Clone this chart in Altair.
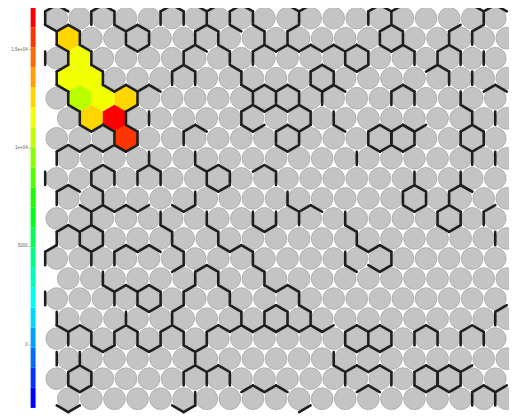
import altair as alt
import pandas as pd
import colorsys

# ---------------- data ----------------
N_ROWS = 20
N_COLS = 20

# coloured units (row from top, column from left) and their values
cell_rows = [1, 2, 3, 3, 4, 4, 4, 5, 5, 6]
cell_cols = [0, 1, 0, 1, 1, 2, 3, 1, 2, 3]
cell_values = [12600, 11500, 11500, 11500, 10500, 11500, 12600, 12600, 16600, 15600]

A = "NW NE E SE SW W"
# cluster boundary edges per row: "col:EDGES" separated by "|"
boundary_rows = {
    0: "0:NW NE W SW|2:NW NE W E|3:SW SE|4:SW|5:NW NE W E|6:NE|7:NW W|8:NW NE W E SW|10:NE|11:NW W|14:NW NE W|15:NW W|18:NE|19:NW NE W",
    1: "0:NW NE W E SW|3:W E SW SE|6:NW NE W|7:W SW|8:NE E|9:SW|10:NW W|14:" + A + "|17:NW W|18:NW W",
    2: "0:W|1:NE W E|6:NW NE W|8:W SW|9:NW W|10:NW NE|11:NW NE|12:NW NE|13:" + A + "|15:NW NE E|17:NW NE W E|19:W",
    3: "0:NW W SW|1:NE E|5:NW NE W E|8:W SW|11:" + A + "|16:NW NE E|18:W",
    4: "1:W SW|2:NE|3:NW NE E SE|4:NW NE|9:" + A + "|10:NW NE E SE SW|12:NW NE W|15:NW NE W E|18:W SW|19:NW NE",
    5: "1:W SW SE|2:E SW|4:W|8:NW W SW SE|9:SE|10:NE E SE SW|12:W SW|15:SW SE|17:E|19:W",
    6: "3:NE W E SW SE|6:NW NE W|10:W E SW SE|14:" + A + "|15:" + A + "|18:" + A,
    7: "0:NW NE W|1:NW NE|2:NW NE|3:E|6:W SW|13:W|17:E|19:W",
    8: "0:W|2:NW NE W E|4:NW NE W E|7:" + A + "|9:NW NE E|16:W|18:W SW",
    9: "0:NW NE W|1:NE E SW SE|2:SW SE|3:SW SE|5:SW SE|6:W|10:W SW|15:" + A + "|17:NW NE W",
    10: "2:W|5:W SW|7:W SW|9:W E SW SE|11:NW NE W|13:W SW|17:" + A + "|19:NW W",
    11: "0:NW NE W E|1:NW NE E SW SE|5:W SW|7:W SW|13:W SW|19:W",
    12: "0:NW W|2:W|3:NW NE W|4:NW NE|5:E SE|8:NW NE E|9:SW|13:W SW|14:NW NE E SE SW",
    13: "2:W SW|6:NW NE W E|7:SW|9:W SW",
    14: "0:W|3:NW NE W|4:" + A + "|6:NW W|8:W SW|10:NW NE E",
    15: "0:W SW|3:W|5:NW W|8:W SW|9:" + A + "|10:NE|11:W SW|19:NW W",
    16: "1:NW NE W E|2:SW SE|3:NW NE W E|4:SW SE|5:NW NE W E|6:SW SE|7:NW NE W|8:NW NE|9:NW NE|10:NW NE|11:NW NE|12:NW|13:" + A + "|14:NW NE E SE SW|16:NW NE W E|18:NW NE W E",
    17: "0:W|1:W|6:W|12:W SW|17:SW SE",
    18: "1:" + A + "|6:NW NE W E|7:NW NE E|13:NW NE W|14:NW NE E|16:" + A + "|17:" + A,
    19: "0:SW SE|5:SW SE|6:W|8:NW NE|9:NW NE|10:SE|13:NW NE|18:NW NE W|19:NW W",
}

# colour bar
bar_min, bar_max, bar_steps = -3200, 17150, 20
tick_values = [0, 5000, 10000, 15000]
tick_labels = ["0", "5000", "1e+04", "1.5e+04"]

# ---------------- build tables ----------------
def hx(r, c):
    return c + 0.5 * (r % 2)

coloured = set(zip(cell_rows, cell_cols))
grid = pd.DataFrame(
    [{"r": r, "xu": hx(r, c)} for r in range(N_ROWS) for c in range(N_COLS) if (r, c) not in coloured]
)
cells = pd.DataFrame({"r": cell_rows, "c": cell_cols, "value": cell_values})
cells["xu"] = [hx(r, c) for r, c in zip(cells.r, cells.c)]

V = [(0, -2 / 3), (0.5, -1 / 3), (0.5, 1 / 3), (0, 2 / 3), (-0.5, 1 / 3), (-0.5, -1 / 3)]
EDGE = {"NE": (0, 1), "E": (1, 2), "SE": (2, 3), "SW": (3, 4), "W": (4, 5), "NW": (5, 0)}
seg = []
for r, txt in boundary_rows.items():
    for item in txt.split("|"):
        c, eds = item.split(":")
        c = int(c)
        for e in eds.split():
            a, b = EDGE[e]
            x0, y0 = hx(r, c), r
            seg.append({"x": x0 + V[a][0], "y": y0 + V[a][1], "x2": x0 + V[b][0], "y2": y0 + V[b][1]})
segs = pd.DataFrame(seg)

step = (bar_max - bar_min) / bar_steps
bar = pd.DataFrame({"lo": [bar_min + i * step for i in range(bar_steps)]})
bar["hi"] = bar["lo"] + step
bar["value"] = bar["lo"] + step / 2
ticks = pd.DataFrame({"v": tick_values, "label": tick_labels})

palette = []
for i in range(bar_steps):
    h = (240 - i * 240 / (bar_steps - 1)) / 360
    rr, gg, bb = colorsys.hsv_to_rgb(h, 1, 1)
    palette.append("#%02x%02x%02x" % (int(rr * 255), int(gg * 255), int(bb * 255)))

W, H = 509, 412
px = 23.45
x0_chart = 49.5
xdom = [-x0_chart / px, (W - x0_chart) / px]
ydom = [-7 / 20.35, (H - 7) / 20.35]
X = alt.Scale(domain=xdom, nice=False, zero=False)
Y = alt.Scale(domain=ydom, nice=False, zero=False, reverse=True)
col_scale = alt.Scale(type="quantize", domain=[bar_min, bar_max], range=palette)
vy = alt.Scale(domain=[-3650, 16950], nice=False, zero=False)

circles = alt.Chart(grid).mark_point(
    shape="circle", filled=True, size=490, fill="#c4c4c4", stroke="#a2a2a2", strokeWidth=0.7, opacity=1
).encode(x=alt.X("xu:Q", scale=X, axis=None), y=alt.Y("r:Q", scale=Y, axis=None))

hexpath = "M0,-1L0.866,-0.5L0.866,0.5L0,1L-0.866,0.5L-0.866,-0.5Z"
hexes = alt.Chart(cells).mark_point(shape=hexpath, filled=True, size=745, opacity=1, strokeWidth=0).encode(
    x=alt.X("xu:Q", scale=X, axis=None),
    y=alt.Y("r:Q", scale=Y, axis=None),
    color=alt.Color("value:Q", scale=col_scale, legend=None),
)

edges = alt.Chart(segs).mark_rule(color="#1e1e1e", strokeWidth=2.6, strokeCap="round").encode(
    x=alt.X("x:Q", scale=X, axis=None),
    y=alt.Y("y:Q", scale=Y, axis=None),
    x2="x2:Q",
    y2="y2:Q",
)

cbar = alt.Chart(bar).mark_rect().encode(
    x=alt.value(23),
    x2=alt.value(28),
    y=alt.Y("lo:Q", scale=vy, axis=None),
    y2="hi:Q",
    color=alt.Color("value:Q", scale=col_scale, legend=None),
)
cticks = alt.Chart(ticks).mark_rule(color="#888", strokeWidth=0.6).encode(
    x=alt.value(21), x2=alt.value(23), y=alt.Y("v:Q", scale=vy, axis=None)
)
clabels = alt.Chart(ticks).mark_text(
    align="right", baseline="middle", fontSize=4.6, color="#666", font="Liberation Sans"
).encode(x=alt.value(20), y=alt.Y("v:Q", scale=vy, axis=None), text="label:N")

chart = (
    alt.layer(circles, hexes, edges, cbar, cticks, clabels)
    .resolve_scale(y="independent")
    .properties(width=W, height=H, padding=0, autosize=alt.AutoSizeParams(type="none"))
    .configure_view(stroke=None)
)
chart.save("out.html", embed_options={"renderer": "svg", "actions": False})
